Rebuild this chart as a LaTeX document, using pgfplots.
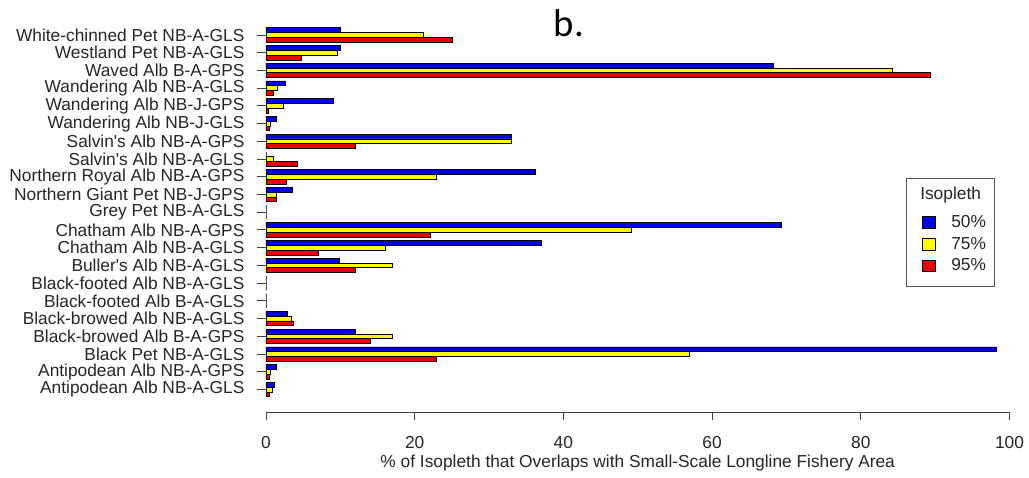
\documentclass[border=0pt]{standalone}
\usepackage{pgfplots}
\pgfplotsset{compat=1.18}
\usepackage{pgfplotstable}
\usepackage{fontspec}
\setmainfont{Liberation Sans}
\newfontfamily\carlito{Carlito}
\definecolor{rblue}{RGB}{0,0,230}
\definecolor{ryellow}{RGB}{255,255,0}
\definecolor{rred}{RGB}{235,0,0}
\definecolor{axgray}{RGB}{85,85,85}

\pgfplotsset{
  sqlegend/.style={legend image code/.code={\path (-11.25pt,-7.875pt) (21.75pt,7.875pt);
    \draw[##1,line width=0.5pt] (0pt,-4.3pt) rectangle (9.75pt,4.3pt);}},
  sqlegendlast/.style={legend image code/.code={\path (-11.25pt,-15pt) (21.75pt,7.875pt);
    \draw[##1,line width=0.5pt] (0pt,-4.3pt) rectangle (9.75pt,4.3pt);}},
}

% idx 0 = bottom category
\pgfplotstableread{
idx b50 b75 b95
0 1.08 0.80 0.45
1 1.35 0.63 0.45
2 98.3 57.0 22.96
3 12.06 17.04 14.08
4 2.87 3.36 3.68
5 0 0 0
6 0 0 0
7 9.87 17.0 12.06
8 37.1 16.1 7.04
9 69.27 49.16 22.06
10 0 0 0
11 3.54 1.35 1.43
12 36.2 22.96 2.69
13 0 0.98 4.26
14 33.05 32.95 12.06
15 1.43 0.63 0.45
16 9.05 2.3 0.3
17 2.55 1.57 0.98
18 68.2 84.2 89.3
19 9.95 9.6 4.8
20 9.95 21.1 25.06
}\datatable

\begin{document}
\begin{tikzpicture}[font=\fontsize{13}{15.6}\selectfont]
\begin{axis}[
  scale only axis,
  width=557.6pt, height=296.05pt,
  xmin=0, xmax=100, ymin=-1.77, ymax=20.5,
  axis x line*=bottom, axis y line*=left,
  separate axis lines,
  x axis line style={draw opacity=0},
  y axis line style={draw opacity=0},
  xtick pos=bottom, ytick pos=left,
  tick align=outside,
  major tick length=7pt,
  xtick style={draw opacity=0},
  ytick style={draw=black!75, draw opacity=1, line width=0.7pt},
  xtick={0,20,...,100},
  ytick={0,...,20},
  yticklabels={
    Antipodean Alb NB-A-GLS,
    Antipodean Alb NB-A-GPS,
    Black Pet NB-A-GLS,
    Black-browed Alb B-A-GPS,
    Black-browed Alb NB-A-GLS,
    Black-footed Alb B-A-GLS,
    Black-footed Alb NB-A-GLS,
    Buller\textquotesingle s Alb NB-A-GLS,
    Chatham Alb NB-A-GLS,
    Chatham Alb NB-A-GPS,
    Grey Pet NB-A-GLS,
    Northern Giant Pet NB-J-GPS,
    Northern Royal Alb NB-A-GPS,
    Salvin\textquotesingle s Alb NB-A-GLS,
    Salvin\textquotesingle s Alb NB-A-GPS,
    Wandering Alb NB-J-GLS,
    Wandering Alb NB-J-GPS,
    Wandering Alb NB-A-GLS,
    Waved Alb B-A-GPS,
    Westland Pet NB-A-GLS,
    White-chinned Pet NB-A-GLS},
  /pgf/number format/assume math mode=true,
  ticklabel style={text=black!85},
  xticklabel style={anchor=base, inner sep=0pt, yshift=-14pt},
  yticklabel style={anchor=east, inner sep=0pt, xshift=-9pt},
  xlabel={\% of Isopleth that Overlaps with Small-Scale Longline Fishery Area},
  xlabel style={at={(rel axis cs:0.5,0)}, anchor=base, inner sep=0pt, yshift=-35.36pt, text=black!85},
  clip=false,
  legend style={at={(axis cs:86.1,11.93)}, anchor=north west,
    draw=axgray, line width=0.6pt, fill=white,
    inner xsep=0pt, inner ysep=0pt, row sep=0pt,
    nodes={inner sep=0pt, text=black!85},
    font=\fontsize{13}{15.6}\selectfont},
  legend cell align=left,
]
\addlegendimage{legend image code/.code={\path (-11.25pt,-13.1pt) (0pt,11.25pt);}}
\addlegendentry{\hspace*{-23.25pt}Isopleth}
\addplot[xbar, bar width=0.27, bar shift=0.27, fill=rblue, draw=black, line width=0.5pt, sqlegend]
  table[x=b50, y=idx] {\datatable};
\addlegendentry{50\%\hspace*{6pt}}
\addplot[xbar, bar width=0.27, bar shift=0, fill=ryellow, draw=black, line width=0.5pt, sqlegend]
  table[x=b75, y=idx] {\datatable};
\addlegendentry{75\%\hspace*{6pt}}
\addplot[xbar, bar width=0.27, bar shift=-0.27, fill=rred, draw=black, line width=0.5pt, sqlegendlast]
  table[x=b95, y=idx] {\datatable};
\addlegendentry{95\%\hspace*{6pt}}
% x axis line and its tick marks, kept inside the axis box
\draw[black!75, line width=0.7pt]
  (axis cs:0,-1.27) -- (axis cs:100,-1.27)
  (axis cs:0,-1.27) -- (axis cs:0,-1.72)
  (axis cs:20,-1.27) -- (axis cs:20,-1.72)
  (axis cs:40,-1.27) -- (axis cs:40,-1.72)
  (axis cs:60,-1.27) -- (axis cs:60,-1.72)
  (axis cs:80,-1.27) -- (axis cs:80,-1.72)
  (axis cs:100,-1.27) -- (axis cs:100,-1.72);
\node[anchor=base west, inner sep=0pt, font=\carlito\fontsize{29}{34}\selectfont]
  at (axis cs:38.67,19.89) {b.};
\coordinate (O) at (rel axis cs:0,0);
\end{axis}
\pgfresetboundingbox
\path[use as bounding box] (O) ++(-199.5pt,-42.86pt) rectangle ++(771.75pt,358.5pt);
\end{tikzpicture}
\end{document}
